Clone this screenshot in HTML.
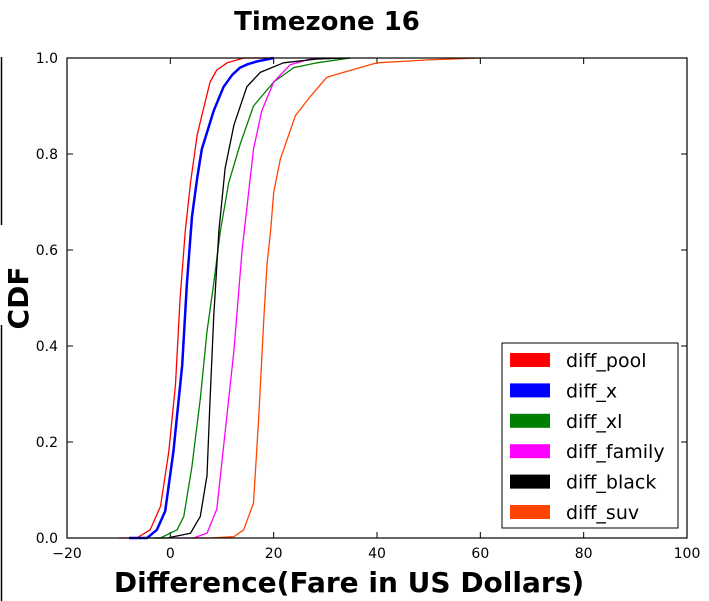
<!DOCTYPE html>
<html><head><meta charset="utf-8"><style>
body{margin:0;background:#fff;}
svg{display:block;font-family:"DejaVu Sans","Liberation Sans",sans-serif;}
</style></head><body>
<svg id="chart" width="709" height="601" viewBox="0 0 709 601" xmlns="http://www.w3.org/2000/svg">
<rect width="709" height="601" fill="#fff"/>
<line x1="1.5" y1="57" x2="1.5" y2="225" stroke="#000" stroke-width="1.5"/>
<line x1="1.5" y1="325" x2="1.5" y2="601" stroke="#000" stroke-width="1.5"/>
<text x="327" y="30" text-anchor="middle" font-size="26" font-weight="bold">Timezone 16</text>
<text transform="translate(28,298) rotate(-90)" text-anchor="middle" font-size="28" font-weight="bold">CDF</text>
<text x="349" y="592" text-anchor="middle" font-size="28" font-weight="bold">Difference(Fare in US Dollars)</text>
<g id="axes"></g>
<g id="series"></g>
<rect x="67" y="58" width="620" height="480" fill="none" stroke="#000" stroke-width="1.2"/>
<g id="legend"></g>
</svg>
<script>
const xTicks=[-20,0,20,40,60,80,100];
const yTicks=[0.0,0.2,0.4,0.6,0.8,1.0];
const seriesNames=["diff_pool","diff_x","diff_xl","diff_family","diff_black","diff_suv"];
const seriesColors=["#ff0000","#0000ff","#008000","#ff00ff","#000000","#ff4500"];
const poolX=[-10,-6.5,-3.9,-1.9,-0.3,1.0,1.9,2.9,3.9,5.2,6.1,7.7,9,11,14.2,20];
const poolY=[0,0,0.017,0.066,0.18,0.32,0.5,0.64,0.74,0.84,0.88,0.95,0.975,0.99,1.0,1.0];
const xX=[-8,-4.5,-2.6,-1,0.6,2.3,3.2,4.2,5.2,6.1,8.4,10.3,12,13.5,15,16.8,20];
const xY=[0,0,0.017,0.056,0.18,0.36,0.53,0.67,0.75,0.81,0.89,0.94,0.965,0.98,0.987,0.993,1.0];
const xlX=[-5,-1.9,1.3,2.6,4.2,5.8,7.1,8.4,9.7,11.3,13.5,16.1,20,23.9,28.4,34.8];
const xlY=[0,0,0.017,0.045,0.15,0.29,0.43,0.53,0.64,0.74,0.82,0.9,0.95,0.98,0.99,1.0];
const familyX=[1,4.5,7.1,9,10.6,12.3,13.9,15.2,16.1,17.7,20,23.2,27.1,31.6];
const familyY=[0,0,0.01,0.06,0.22,0.39,0.6,0.725,0.81,0.89,0.95,0.986,0.998,1.0];
const blackX=[-3,-0.6,3.9,5.8,7.1,7.7,8.4,9.4,10.6,12.3,14.8,17.4,21.9,28.4,34.8];
const blackY=[0,0,0.01,0.045,0.13,0.29,0.46,0.64,0.77,0.86,0.94,0.97,0.99,0.998,1.0];
const suvX=[4,7.7,12.3,14.2,16.1,17.1,18.1,18.7,19.4,20,21.3,22.6,24.2,27.1,30.3,33.5,40,45,50,60];
const suvY=[0,0,0.003,0.017,0.073,0.25,0.46,0.57,0.64,0.72,0.79,0.83,0.88,0.92,0.96,0.97,0.99,0.993,0.996,1.0];
const allX=[poolX,xX,xlX,familyX,blackX,suvX];
const allY=[poolY,xY,xlY,familyY,blackY,suvY];

const L=67,R=687,T=58,B=538;
const sx=v=>L+(v-(-20))/120*(R-L);
const sy=v=>B-v*(B-T);
const NS="http://www.w3.org/2000/svg";
function mk(tag,attrs,parent){const e=document.createElementNS(NS,tag);for(const k in attrs)e.setAttribute(k,attrs[k]);parent.appendChild(e);return e;}
const axes=document.getElementById('axes');
xTicks.forEach(t=>{
  const x=sx(t);
  const a=mk('line',{x1:x,y1:B,x2:x,y2:B-6,stroke:'#000'},axes);
  
  
  const b=mk('line',{x1:x,y1:T,x2:x,y2:T+6,stroke:'#000'},axes);
  
  
  const tx=mk('text',{x:x,y:B+20,'text-anchor':'middle','font-size':'14'},axes);
  tx.textContent=(t<0?'\u2212'+(-t):String(t));
  
  
});
yTicks.forEach(t=>{
  const y=sy(t);
  const a=mk('line',{x1:L,y1:y,x2:L+6,y2:y,stroke:'#000'},axes);
  
  
  const b=mk('line',{x1:R,y1:y,x2:R-6,y2:y,stroke:'#000'},axes);
  
  
  const tx=mk('text',{x:L-9,y:y+5,'text-anchor':'end','font-size':'14'},axes);
  tx.textContent=t.toFixed(1);
  
  
});
const sg=document.getElementById('series');
allX.forEach((xs,i)=>{
  const pts=xs.map((v,j)=>sx(v).toFixed(1)+','+sy(allY[i][j]).toFixed(1)).join(' ');
  const p=mk('polyline',{points:pts,fill:'none',stroke:seriesColors[i],'stroke-width':i===1?2.5:1.3,'stroke-linejoin':'round'},sg);
  
  
});
const lg=document.getElementById('legend');
const box=mk('rect',{x:502,y:343,width:176,height:185,fill:'#fff',stroke:'#000','stroke-width':1},lg);


seriesNames.forEach((n,i)=>{
  const y=360+i*30.4;
  const g=mk('g',{},lg);
  
  
  mk('rect',{x:510,y:y-7,width:40,height:14,fill:seriesColors[i]},g);
  const t=mk('text',{x:566,y:y+7,'font-size':'19'},g);
  t.textContent=n;
});
</script>
</body></html>
